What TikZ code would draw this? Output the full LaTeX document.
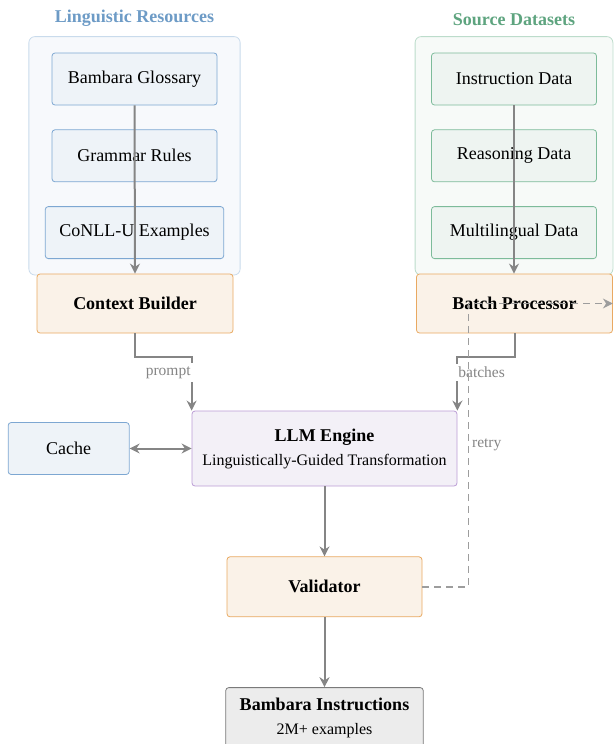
\documentclass[tikz,border=0pt]{standalone}
\usepackage{fontspec}
\setmainfont{Liberation Serif}
\usetikzlibrary{positioning,arrows.meta,fit,backgrounds}
\usepackage{xcolor}

\definecolor{resblue}{HTML}{7DA7D2}
\definecolor{resfill}{HTML}{EEF3F8}
\definecolor{resouter}{HTML}{C9DBEC}
\definecolor{resbg}{HTML}{F7F9FC}
\definecolor{restitle}{HTML}{6D9BC6}
\definecolor{datgreen}{HTML}{7DBB9A}
\definecolor{datfill}{HTML}{EEF4F1}
\definecolor{datouter}{HTML}{BCDCCB}
\definecolor{datbg}{HTML}{F7FAF8}
\definecolor{dattitle}{HTML}{5EA47F}
\definecolor{procorange}{HTML}{E9A961}
\definecolor{procfill}{HTML}{FAF2E8}
\definecolor{llmpurple}{HTML}{BB9DD5}
\definecolor{llmfill}{HTML}{F3F0F7}
\definecolor{outgray}{HTML}{7A7A7A}
\definecolor{outfill}{HTML}{ECECEC}
\definecolor{linkgray}{HTML}{858585}

\newcommand{\mainsize}{\fontsize{18}{21}\selectfont}
\newcommand{\subsize}{\fontsize{16}{19}\selectfont}
\newcommand{\labsize}{\fontsize{15.5}{18}\selectfont}

\begin{document}
\begin{tikzpicture}[
    x=1pt, y=-1pt,
    node distance=24pt and 62pt,
    box/.style={
        rectangle, draw, rounded corners=3pt, line width=0.8pt,
        minimum height=52pt, minimum width=165pt, inner xsep=14pt,
        align=center, font=\mainsize
    },
    resbox/.style={box, draw=resblue, fill=resfill},
    datbox/.style={box, draw=datgreen, fill=datfill},
    procbox/.style={box, draw=procorange, fill=procfill,
        minimum width=196pt, minimum height=59pt, font=\mainsize\bfseries},
    group/.style={rectangle, rounded corners=6pt, line width=0.8pt, inner sep=16pt},
    arrow/.style={-{Stealth[length=10pt,width=10pt]}, line width=2pt, linkgray},
    retry/.style={-{Stealth[length=10pt,width=10pt]}, line width=1.4pt,
        linkgray!80, dash pattern=on 7pt off 5pt},
    flowlabel/.style={font=\labsize, text=linkgray, inner xsep=2pt}
]
\useasboundingbox (0,0) rectangle (613,744);

% linguistic resources
\node[resbox] (gloss) at (134.5,79) {Bambara Glossary};
\node[resbox, below=of gloss] (grammar) {Grammar Rules};
\node[resbox, below=of grammar] (conll) {CoNLL-U Examples};

% source datasets
\node[datbox] (inst) at (514,79) {Instruction Data};
\node[datbox, below=of inst] (reas) {Reasoning Data};
\node[datbox, below=of reas] (multi) {Multilingual Data};

\begin{scope}[on background layer]
\node[group, draw=resouter, fill=resbg, fit=(gloss) (grammar) (conll),
      label={[font=\mainsize\bfseries, text=restitle, label distance=6pt]above:Linguistic Resources}] (resgrp) {};
\node[group, draw=datouter, fill=datbg, fit=(inst) (reas) (multi),
      label={[font=\mainsize\bfseries, text=dattitle, label distance=7pt]above:Source Datasets}] (datgrp) {};
\end{scope}

\node[procbox] (ctx) at (135,303.5) {Context Builder};
\node[procbox] (batch) at (514.5,303.5) {Batch Processor};

\node[box, draw=llmpurple, fill=llmfill, minimum width=265pt, minimum height=75pt, inner xsep=6pt]
    (llm) at (324.5,448.5) {\textbf{LLM Engine}\\[3pt]{\subsize Linguistically-Guided Transformation}};
\node[box, draw=resblue, fill=resfill, minimum width=121pt, left=of llm] (cache) {Cache};
\node[procbox, minimum width=195pt, minimum height=60pt, below=70pt of llm] (valid) {Validator};
\node[box, draw=outgray, fill=outfill, minimum width=195pt, minimum height=60pt,
      below=70pt of valid] (out) {\textbf{Bambara Instructions}\\[3pt]{\subsize 2M+ examples}};

\draw[arrow] (gloss.south) -- (ctx.north);
\draw[arrow] (inst.south) -- (multi.south |- batch.north);
\draw[arrow] (ctx.south) -- ++(0,24) -| (llm.north west)
    node[flowlabel, pos=0.64, anchor=east, xshift=2pt, fill=white] {prompt};
\draw[arrow] (batch.south) -- ++(0,24) -| (llm.north east)
    node[flowlabel, pos=0.64, anchor=west, xshift=-2pt, fill=white] {batches};
\draw[arrow, {Stealth[length=10pt,width=10pt]}-{Stealth[length=10pt,width=10pt]}] (cache.east) -- (llm.west);
\draw[arrow] (llm.south) -- (valid.north);
\draw[arrow] (valid.south) -- (out.north);
\draw[retry] (valid.east) -- ++(46,0) |- (batch.east)
    node[flowlabel, pos=0.25, anchor=west, xshift=1pt] {retry};
\end{tikzpicture}
\end{document}
